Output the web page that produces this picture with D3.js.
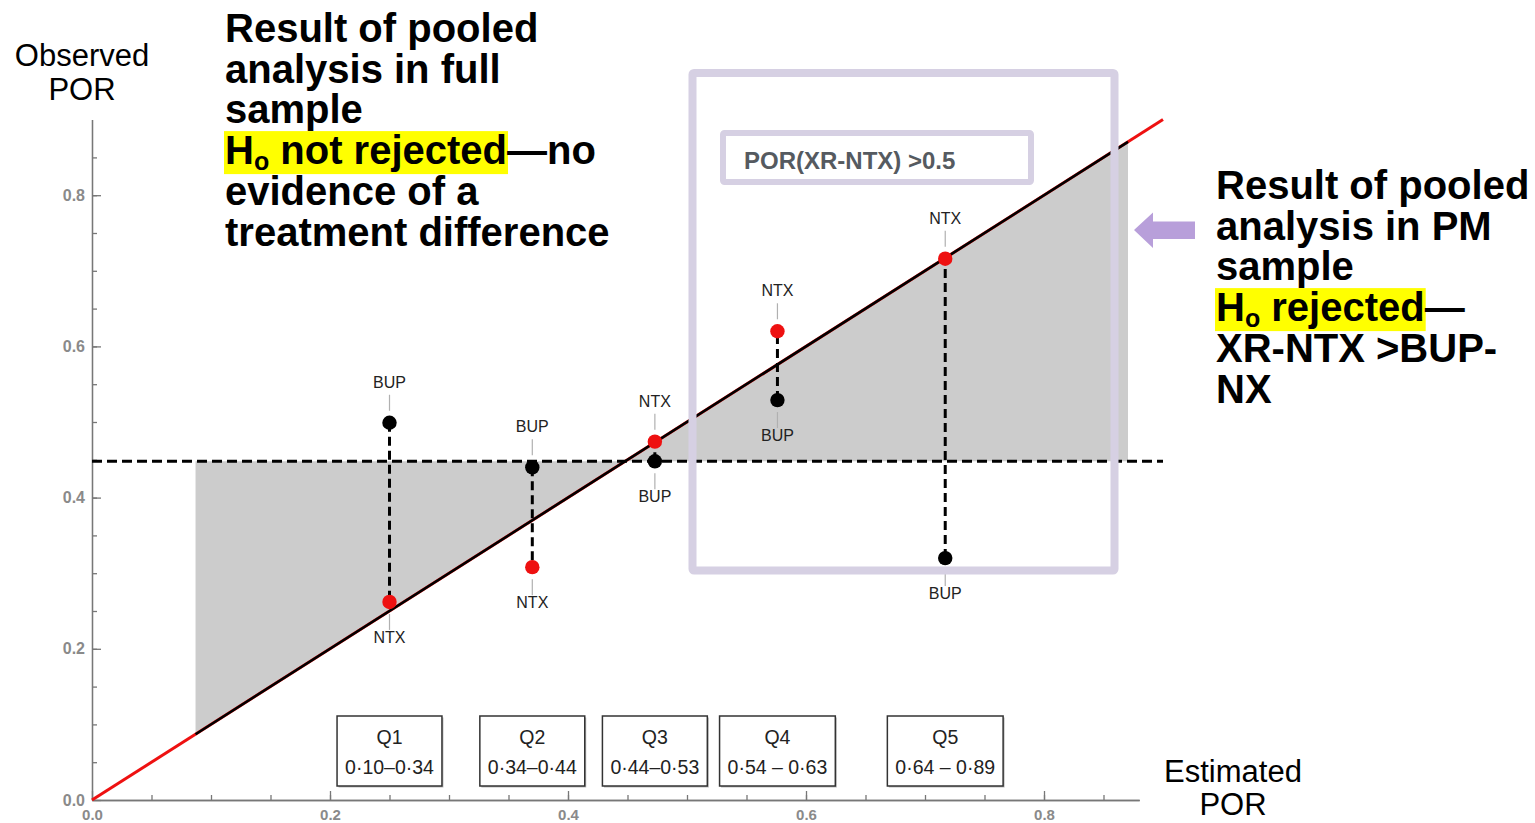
<!DOCTYPE html>
<html>
<head>
<meta charset="utf-8">
<script src="https://cdn.jsdelivr.net/npm/d3@7"></script>
<style>
  html, body { margin: 0; padding: 0; background: #fff; }
  svg { display: block; font-family: "Liberation Sans", Arial, sans-serif; }
</style>
</head>
<body>
<svg id="chart" width="1535" height="823"></svg>
<script>
// Quintiles of estimated POR and observed POR by treatment arm
const quintiles    = ["Q1", "Q2", "Q3", "Q4", "Q5"];
const quintileRange = ["0·10–0·34", "0·34–0·44", "0·44–0·53", "0·54 – 0·63", "0·64 – 0·89"];
const estimatedPOR = [0.250, 0.370, 0.473, 0.576, 0.717];
const bupObserved  = [0.499, 0.440, 0.448, 0.529, 0.320];
const ntxObserved  = [0.262, 0.308, 0.474, 0.620, 0.716];

const pooledPOR = 0.448;          // horizontal reference (pooled observed POR)
const shadeFrom = 0.087, shadeTo = 0.8706;
const xMajor = [0, 0.2, 0.4, 0.6, 0.8];
const yMajor = [0, 0.2, 0.4, 0.6, 0.8];
const xMinor = d3.range(0.05, 0.88, 0.05);
const yMinor = d3.range(0.05, 0.9, 0.05);

const svg = d3.select("#chart");
const x = d3.scaleLinear().domain([0, 0.88]).range([92, 92 + 0.88 * 1190]);
const y = d3.scaleLinear().domain([0, 0.9]).range([800, 800 - 0.9 * 756]);

// shaded region between the identity line and the pooled POR
svg.append("path")
  .attr("d", d3.line().x(d => x(d[0])).y(d => y(d[1]))([
    [shadeFrom, pooledPOR], [shadeFrom, shadeFrom], [shadeTo, shadeTo], [shadeTo, pooledPOR]
  ]) + "Z")
  .attr("fill", "#cccccc");

// axes
function styleAxis(size) {
  return g => {
    g.selectAll("path, line").attr("stroke", "#777").attr("stroke-width", 1.3);
    g.selectAll("text").attr("fill", "#8a8a8a").attr("font-weight", "bold")
      .attr("font-size", size).attr("font-family", "Liberation Sans, Arial, sans-serif");
  };
}
svg.append("g").attr("transform", `translate(0,${y(0)})`)
  .call(d3.axisBottom(x).tickValues(xMinor).tickSize(-5).tickSizeOuter(0).tickFormat(""))
  .call(styleAxis(15));
svg.append("g").attr("transform", `translate(0,${y(0)})`)
  .call(d3.axisBottom(x).tickValues(xMajor).tickSize(-9).tickSizeOuter(0).tickPadding(9).tickFormat(d3.format(".1f")))
  .call(styleAxis(15));
svg.append("g").attr("transform", `translate(${x(0)},0)`)
  .call(d3.axisLeft(y).tickValues(yMinor).tickSize(-5).tickSizeOuter(0).tickFormat(""))
  .call(styleAxis(16));
svg.append("g").attr("transform", `translate(${x(0)},0)`)
  .call(d3.axisLeft(y).tickValues(yMajor).tickSize(-9).tickSizeOuter(0).tickPadding(7).tickFormat(d3.format(".1f")))
  .call(styleAxis(16));

// identity line: red overall, black across the shaded span
svg.append("line")
  .attr("x1", x(0)).attr("y1", y(0)).attr("x2", x(0.9)).attr("y2", y(0.9))
  .attr("stroke", "#ee1111").attr("stroke-width", 3);
svg.append("line")
  .attr("x1", x(shadeFrom)).attr("y1", y(shadeFrom)).attr("x2", x(shadeTo)).attr("y2", y(shadeTo))
  .attr("stroke", "#000").attr("stroke-width", 2.6);

// pooled POR dashed line
svg.append("line")
  .attr("x1", x(0)).attr("y1", y(pooledPOR)).attr("x2", x(0.9)).attr("y2", y(pooledPOR))
  .attr("stroke", "#000").attr("stroke-width", 3).attr("stroke-dasharray", "10,5");

// per-quintile points
const rows = quintiles.map((q, i) => ({
  q, range: quintileRange[i], est: estimatedPOR[i], bup: bupObserved[i], ntx: ntxObserved[i]
}));

const grp = svg.append("g").selectAll("g").data(rows).join("g");
grp.append("line")
  .attr("x1", d => x(d.est)).attr("x2", d => x(d.est))
  .attr("y1", d => y(d.bup)).attr("y2", d => y(d.ntx))
  .attr("stroke", "#000").attr("stroke-width", 3).attr("stroke-dasharray", "9,5");

function pointLabel(sel, key, name, color) {
  sel.each(function(d) {
    const g = d3.select(this);
    const other = key === "bup" ? d.ntx : d.bup;
    const up = d[key] >= other;
    const px = x(d.est), py = y(d[key]);
    const s = up ? -1 : 1;
    g.append("line").attr("x1", px).attr("x2", px)
      .attr("y1", py + s * 12).attr("y2", py + s * 28)
      .attr("stroke", "#b0b0b0").attr("stroke-width", 1.2);
    g.append("text").attr("x", px).attr("y", up ? py - 35 : py + 41)
      .attr("text-anchor", "middle").attr("font-size", 16).attr("fill", "#222").text(name);
    g.append("circle").attr("cx", px).attr("cy", py).attr("r", 7.2).attr("fill", color);
  });
}
grp.call(pointLabel, "bup", "BUP", "#000");
grp.call(pointLabel, "ntx", "NTX", "#ee1111");

// quintile boxes along the bottom
const boxes = svg.append("g").selectAll("g").data(rows).join("g");
boxes.each(function(d) {
  const g = d3.select(this);
  const cx = x(d.est);
  g.append("text").attr("x", cx).attr("y", 744).attr("text-anchor", "middle")
    .attr("font-size", 19.5).attr("fill", "#222").text(d.q);
  const t2 = g.append("text").attr("x", cx).attr("y", 774).attr("text-anchor", "middle")
    .attr("font-size", 19.5).attr("fill", "#222").text(d.range);
  const w = t2.node().getComputedTextLength() + 16;
  g.insert("rect", "text").attr("x", cx - w / 2 + 1.5).attr("y", 717.5).attr("width", w).attr("height", 70)
    .attr("fill", "#bbb");
  g.insert("rect", "text").attr("x", cx - w / 2).attr("y", 716).attr("width", w).attr("height", 70)
    .attr("fill", "#fff").attr("stroke", "#333").attr("stroke-width", 1.5);
});

// axis titles
svg.append("text").attr("x", 82).attr("y", 66).attr("text-anchor", "middle").attr("font-size", 31).attr("fill", "#000").text("Observed");
svg.append("text").attr("x", 82).attr("y", 100).attr("text-anchor", "middle").attr("font-size", 31).attr("fill", "#000").text("POR");
svg.append("text").attr("x", 1233).attr("y", 782).attr("text-anchor", "middle").attr("font-size", 31).attr("fill", "#000").text("Estimated");
svg.append("text").attr("x", 1233).attr("y", 815).attr("text-anchor", "middle").attr("font-size", 31).attr("fill", "#000").text("POR");

// PM sample highlight frame
const lav = "#d6d0e3";
svg.append("rect").attr("x", 692.5).attr("y", 73).attr("width", 422).attr("height", 497.5)
  .attr("fill", "none").attr("stroke", lav).attr("stroke-width", 8).attr("rx", 1.5);
svg.append("rect").attr("x", 723).attr("y", 133).attr("width", 308).attr("height", 49)
  .attr("fill", "#fff").attr("stroke", lav).attr("stroke-width", 6).attr("rx", 1.5);
svg.append("text").attr("x", 744).attr("y", 169).attr("font-size", 24).attr("font-weight", "bold")
  .attr("fill", "#555a60").text("POR(XR-NTX) >0.5");

// arrow pointing to the frame
svg.append("path")
  .attr("d", "M1134,230 L1153,212.5 L1153,221.5 L1195,221.5 L1195,239 L1153,239 L1153,248 Z")
  .attr("fill", "#b89fda");

// bold annotation blocks
function annotation(x0, base, lines, hlLine, hlParts) {
  const g = svg.append("g");
  lines.forEach((ln, i) => {
    const t = g.append("text").attr("x", x0).attr("y", base + i * 40.7)
      .attr("font-size", 40).attr("font-weight", "bold").attr("fill", "#000");
    if (i === hlLine) {
      const a = t.append("tspan").text("H");
      const b = t.append("tspan").attr("font-size", 25).attr("dy", 6).text("o");
      const c = t.append("tspan").attr("dy", -6).text(hlParts[0]);
      t.append("tspan").text(hlParts[1]);
      const w = a.node().getComputedTextLength() + b.node().getComputedTextLength() + c.node().getComputedTextLength();
      g.insert("rect", "text").attr("x", x0 - 1).attr("y", base + i * 40.7 - 33)
        .attr("width", w + 2).attr("height", 43).attr("fill", "#ffff00");
    } else {
      t.text(ln);
    }
  });
}
annotation(225, 42, ["Result of pooled", "analysis in full", "sample", "", "evidence of a", "treatment difference"],
  3, [" not rejected", "—no"]);
annotation(1216, 199, ["Result of pooled", "analysis in PM", "sample", "", "XR-NTX >BUP-", "NX"],
  3, [" rejected", "—"]);
</script>
</body>
</html>
